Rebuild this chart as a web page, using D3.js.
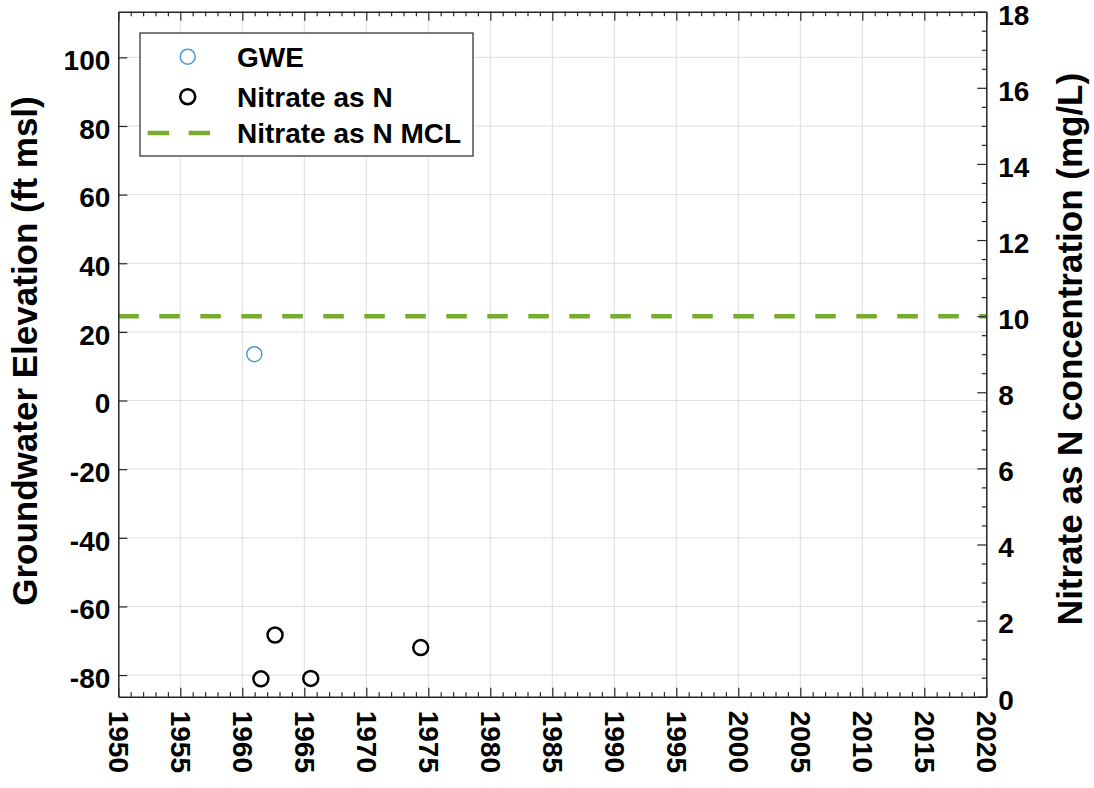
<!DOCTYPE html>
<html><head><meta charset="utf-8">
<script src="https://cdn.jsdelivr.net/npm/d3@7"></script>
<style>body{margin:0;background:#fff;} svg{display:block;font-family:"Liberation Sans",Arial,sans-serif;font-weight:bold;}</style>
</head><body>
<svg id="c" width="1094" height="788"></svg>
<script>
const xDomain = [1950, 2020];
const leftDomain = [-86.3, 113.3];
const rightDomain = [0, 18];
const xTicks = [1950,1955,1960,1965,1970,1975,1980,1985,1990,1995,2000,2005,2010,2015,2020];
const leftTicks = [-80,-60,-40,-20,0,20,40,60,80,100];
const rightTicks = [0,2,4,6,8,10,12,14,16,18];
const gweDates = [1960.97];
const gweValues = [13.5];
const nitrateDates = [1961.5, 1962.64, 1965.52, 1974.39];
const nitrateValues = [0.47, 1.62, 0.48, 1.29];
const mclValue = 10;
const legendLabels = ["GWE", "Nitrate as N", "Nitrate as N MCL"];

(function(){
const svg = d3.select("#c");
const L = 118.3, R = 986.3, T = 11.7, B = 696.7;
const x = d3.scaleLinear().domain(xDomain).range([L, R]);
const yL = d3.scaleLinear().domain(leftDomain).range([B, T]);
const yR = d3.scaleLinear().domain(rightDomain).range([B, T]);
const axisCol = "#262626";
const fmt = d => String(d);

// grid
const g = svg.append("g");
g.selectAll(".vg").data(xTicks.slice(1, -1)).join("line")
  .attr("x1", d => x(d)).attr("x2", d => x(d)).attr("y1", T).attr("y2", B)
  .attr("stroke", "#dedede").attr("stroke-width", 1);
g.selectAll(".hg").data(leftTicks).join("line")
  .attr("x1", L).attr("x2", R).attr("y1", d => yL(d)).attr("y2", d => yL(d))
  .attr("stroke", "#dedede").attr("stroke-width", 1);

// MCL line
svg.append("line").attr("x1", L).attr("x2", R)
  .attr("y1", yR(mclValue)).attr("y2", yR(mclValue))
  .attr("stroke", "#77AC30").attr("stroke-width", 4.5).attr("stroke-dasharray", "20.5,20.5");

// axes
const minorYears = d3.range(xDomain[0], xDomain[1] + 1, 1).filter(d => d % 5 !== 0);
const bottomAx = svg.append("g").attr("transform", `translate(0,${B})`)
  .call(d3.axisBottom(x).tickValues(xTicks).tickFormat(fmt).tickSizeInner(-9).tickSizeOuter(0));
bottomAx.selectAll("text").attr("transform", "rotate(90)").attr("x", 14).attr("y", 0)
  .attr("dy", "0.36em").style("text-anchor", "start");
svg.append("g").attr("transform", `translate(0,${B})`)
  .call(d3.axisBottom(x).tickValues(minorYears).tickFormat("").tickSizeInner(-4.5).tickSizeOuter(0))
  .select(".domain").remove();
svg.append("g").attr("transform", `translate(0,${T})`)
  .call(d3.axisTop(x).tickValues(xTicks).tickFormat("").tickSizeInner(-9).tickSizeOuter(0));
svg.append("g").attr("transform", `translate(0,${T})`)
  .call(d3.axisTop(x).tickValues(minorYears).tickFormat("").tickSizeInner(-4.5).tickSizeOuter(0))
  .select(".domain").remove();

const leftAx = svg.append("g").attr("transform", `translate(${L},0)`)
  .call(d3.axisLeft(yL).tickValues(leftTicks).tickFormat(fmt).tickSizeInner(-9).tickSizeOuter(0).tickPadding(8));
const rightAx = svg.append("g").attr("transform", `translate(${R},0)`)
  .call(d3.axisRight(yR).tickValues(rightTicks).tickFormat(fmt).tickSizeInner(-9).tickSizeOuter(0).tickPadding(12));
leftAx.selectAll(".tick text").attr("dy", "0.44em");
rightAx.selectAll(".tick text").attr("dy", "0.44em");
const minorR = d3.range(0.5, 18, 0.5).filter(d => d % 2 !== 0);
svg.append("g").attr("transform", `translate(${R},0)`)
  .call(d3.axisRight(yR).tickValues(minorR).tickFormat("").tickSizeInner(-4.5).tickSizeOuter(0))
  .select(".domain").remove();

svg.selectAll(".domain").attr("stroke", axisCol).attr("stroke-width", 1.5);
svg.selectAll(".tick line").attr("stroke", axisCol).attr("stroke-width", 1.2);
svg.selectAll(".tick text").attr("fill", "#000").style("font-size", "28px")
  .style("font-family", '"Liberation Sans",Arial,sans-serif').style("font-weight", "bold");

// axis labels
svg.append("text").attr("transform", `translate(37,351) rotate(-90)`)
  .attr("text-anchor", "middle").style("font-size", "35px").attr("fill", "#000")
  .text("Groundwater Elevation (ft msl)");
svg.append("text").attr("transform", `translate(1056,349) rotate(-90)`)
  .attr("text-anchor", "middle").attr("dominant-baseline", "hanging").style("font-size", "35px").attr("fill", "#000")
  .text("Nitrate as N concentration (mg/L)");

// data
svg.selectAll(".gwe").data(gweDates).join("circle")
  .attr("cx", d => x(d)).attr("cy", (d, i) => yL(gweValues[i])).attr("r", 7.5)
  .attr("fill", "none").attr("stroke", "#4d9ad6").attr("stroke-width", 1.5);
svg.selectAll(".nit").data(nitrateDates).join("circle")
  .attr("cx", d => x(d)).attr("cy", (d, i) => yR(nitrateValues[i])).attr("r", 7.5)
  .attr("fill", "none").attr("stroke", "#000").attr("stroke-width", 2.5);

// legend
const lg = svg.append("g");
lg.append("rect").attr("x", 140).attr("y", 33).attr("width", 333).attr("height", 123)
  .attr("fill", "#fff").attr("stroke", axisCol).attr("stroke-width", 1.2);
const rows = [56.7, 96.7, 133];
lg.append("circle").attr("cx", 187.7).attr("cy", rows[0]).attr("r", 7.5)
  .attr("fill", "none").attr("stroke", "#4d9ad6").attr("stroke-width", 1.5);
lg.append("circle").attr("cx", 187.7).attr("cy", rows[1]).attr("r", 7.5)
  .attr("fill", "none").attr("stroke", "#000").attr("stroke-width", 2.5);
lg.append("line").attr("x1", 147.7).attr("x2", 210).attr("y1", rows[2]).attr("y2", rows[2])
  .attr("stroke", "#77AC30").attr("stroke-width", 4.5).attr("stroke-dasharray", "21.5,19.5");
lg.selectAll(".lt").data(legendLabels).join("text")
  .attr("x", 237).attr("y", (d, i) => rows[i]).attr("dy", "0.36em")
  .style("font-size", "28px").attr("fill", "#000").text(d => d);
})();
</script>
</body></html>
